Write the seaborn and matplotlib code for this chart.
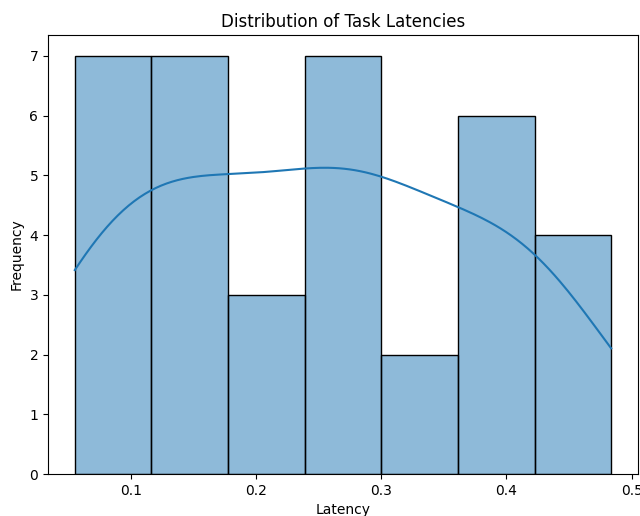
import seaborn as sns
import matplotlib.pyplot as plt

# task latencies (seconds), estimated from the histogram bins
latency_bin1 = [0.0554, 0.058, 0.063, 0.069, 0.077, 0.088, 0.102]
latency_bin2 = [0.125, 0.137, 0.148, 0.158, 0.166, 0.172, 0.177]
latency_bin3 = [0.200, 0.222, 0.236]
latency_bin4 = [0.250, 0.260, 0.269, 0.278, 0.286, 0.293, 0.299]
latency_bin5 = [0.305, 0.320]
latency_bin6 = [0.365, 0.372, 0.381, 0.391, 0.402, 0.415]
latency_bin7 = [0.428, 0.440, 0.455, 0.4836]

latencies = (latency_bin1 + latency_bin2 + latency_bin3 + latency_bin4
             + latency_bin5 + latency_bin6 + latency_bin7)

fig = plt.figure(figsize=(6.4, 5.16), dpi=100)
ax = fig.add_axes([48 / 640, 42 / 516, 590 / 640, 439 / 516])
sns.histplot(latencies, bins=7, kde=True, ax=ax)
ax.set_title('Distribution of Task Latencies')
ax.set_xlabel('Latency')
ax.set_ylabel('Frequency')
plt.savefig('out.png')
